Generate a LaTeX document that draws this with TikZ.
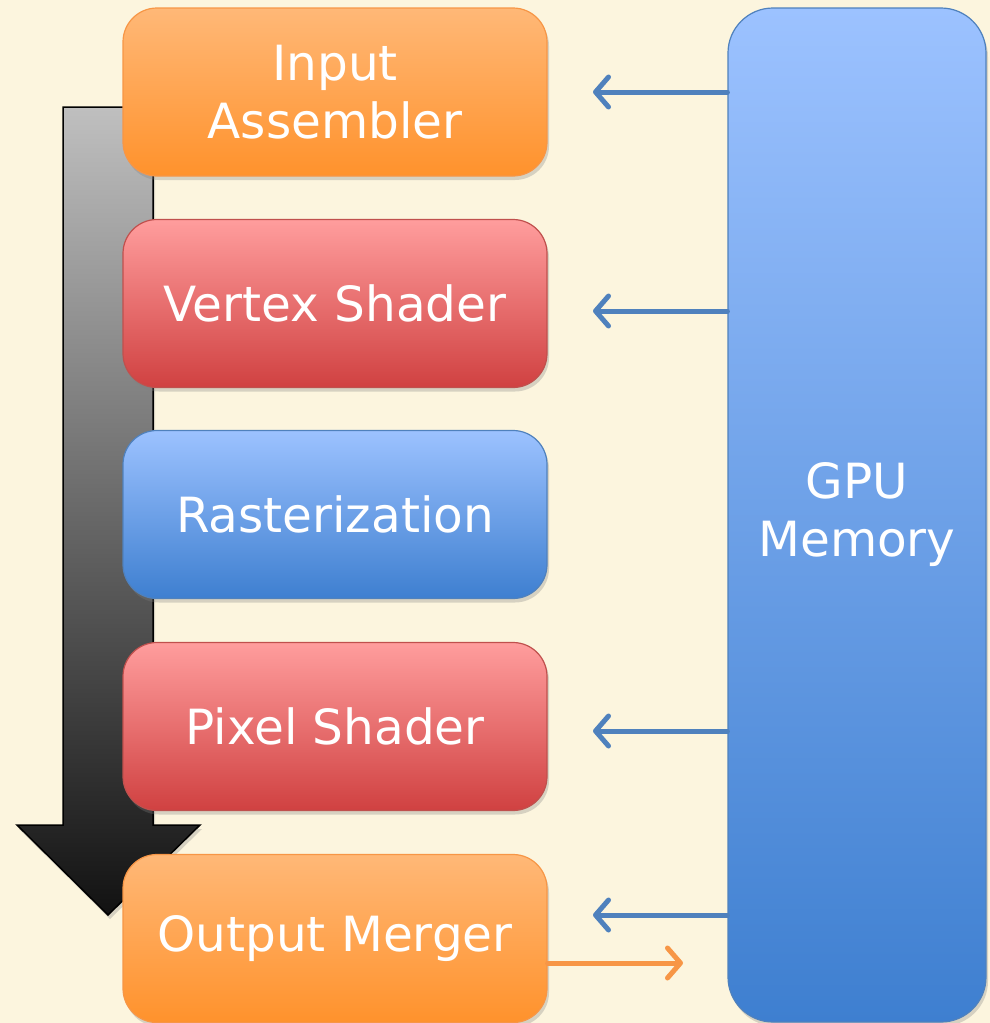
\documentclass[tikz,border=0pt]{standalone}
\usepackage{fontspec}
\setmainfont{DejaVu Sans}
\usetikzlibrary{arrows.meta,shadows}
\definecolor{bg}{HTML}{FCF5DE}
\definecolor{orTop}{HTML}{FFB877}
\definecolor{orBot}{HTML}{FF922C}
\definecolor{orLine}{HTML}{F79646}
\definecolor{rdTop}{HTML}{FF9D9D}
\definecolor{rdBot}{HTML}{D04141}
\definecolor{rdLine}{HTML}{C0504D}
\definecolor{blTop}{HTML}{9CC2FF}
\definecolor{blBot}{HTML}{3E7FD0}
\definecolor{blLine}{HTML}{4F81BD}
\tikzset{
  stagebox/.style={rounded corners=34pt, minimum width=424pt, minimum height=168pt,
    text=white, align=center, line width=1.2pt, inner sep=0pt,
    font=\fontsize{48.5}{58}\selectfont,
    drop shadow={opacity=0.3, shadow xshift=2pt, shadow yshift=-4pt}},
  orangebox/.style={stagebox, draw=orLine, top color=orTop, bottom color=orBot},
  redbox/.style={stagebox, draw=rdLine, top color=rdTop, bottom color=rdBot},
  bluebox/.style={stagebox, draw=blLine, top color=blTop, bottom color=blBot},
  memarrow/.style={draw=blLine, line width=5pt, line cap=round,
    -{Straight Barb[length=13pt, width=30pt, line width=5pt, round]}},
  outarrow/.style={draw=orLine, line width=5pt, line cap=round,
    -{Straight Barb[length=13pt, width=30pt, line width=5pt, round]}},
}
\begin{document}
\begin{tikzpicture}[x=1pt,y=-1pt]
\fill[bg] (0,0) rectangle (990,1023);
\useasboundingbox (0,0) rectangle (990,1023);
% big flow arrow
\shade[top color=black!25, bottom color=black!93, draw=black, line width=1.5pt,
  drop shadow={opacity=0.3, shadow xshift=2pt, shadow yshift=-4pt}]
  (63,107) -- (153,107) -- (153,825) -- (200,825) -- (108,915) -- (17,825) -- (63,825) -- cycle;
% stages
\node[orangebox] (ia) at (335,92) {Input\\Assembler};
\node[redbox] (vs) at (335,303.5) {Vertex Shader};
\node[bluebox] (ra) at (335,514.5) {Rasterization};
\node[redbox] (ps) at (335,726.5) {Pixel Shader};
\node[orangebox] (om) at (335,938.5) {Output Merger};
% memory
\node[stagebox, rounded corners=45pt, minimum width=258pt, minimum height=1014pt,
  draw=blLine, top color=blTop, bottom color=blBot] (gpu) at (857,515) {GPU\\Memory};
% arrows
\coordinate (a1) at (593,92);
\coordinate (a2) at (593,311);
\coordinate (a4) at (593,731);
\coordinate (a5) at (593,915);
\coordinate (o5) at (683,963);
\draw[memarrow] (gpu.west |- a1) -- (a1);
\draw[memarrow] (gpu.west |- a2) -- (a2);
\draw[memarrow] (gpu.west |- a4) -- (a4);
\draw[memarrow] (gpu.west |- a5) -- (a5);
\draw[outarrow] (om.east |- o5) -- (o5);
\end{tikzpicture}
\end{document}
